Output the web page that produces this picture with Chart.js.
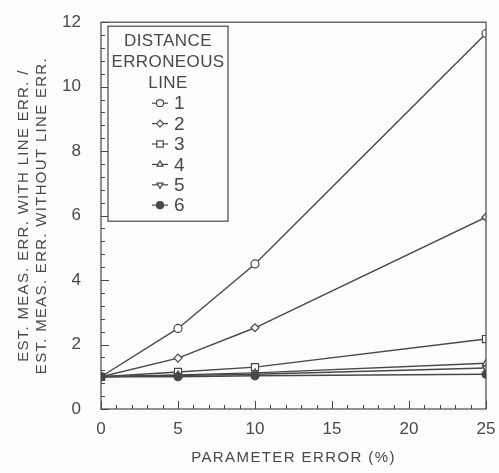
<!DOCTYPE html>
<html>
<head>
<meta charset="utf-8">
<script src="https://cdn.jsdelivr.net/npm/chart.js@4.4.0/dist/chart.umd.min.js"></script>
<style>
  html, body { margin: 0; padding: 0; background: #fcfcfa; }
  #wrap { width: 499px; height: 473px; }
</style>
</head>
<body>
<div id="wrap"><canvas id="charts" width="499" height="473"></canvas></div>
<script>
// data
const paramError = [0, 5, 10, 25]
const line1 = [1, 2.5, 4.5, 11.65]
const line2 = [1, 1.58, 2.52, 5.95]
const line3 = [1, 1.15, 1.3, 2.17]
const line4 = [1, 1.06, 1.12, 1.42]
const line5 = [1, 1.04, 1.08, 1.27]
const line6 = [1, 1.0, 1.03, 1.08]
const lineLabels = ['1', '2', '3', '4', '5', '6']
const legendTitle = ['DISTANCE', 'ERRONEOUS', 'LINE']
const xTitle = 'PARAMETER ERROR (%)'
const yTitle = ['EST. MEAS. ERR. WITH LINE ERR. /', 'EST. MEAS. ERR. WITHOUT LINE ERR.']

const ink = '#484848'
const paper = '#fcfcfa'
const font = '"Liberation Sans", Arial, Helvetica, sans-serif'

function main()
{
    const series = [line1, line2, line3, line4, line5, line6]
    const styles = [
        { pointStyle: 'circle', radius: 4, fill: paper, rotation: 0 },
        { pointStyle: 'rectRot', radius: 4, fill: paper, rotation: 0 },
        { pointStyle: 'rect', radius: 5, fill: paper, rotation: 0 },
        { pointStyle: 'triangle', radius: 4, fill: paper, rotation: 0 },
        { pointStyle: 'triangle', radius: 4, fill: paper, rotation: 180 },
        { pointStyle: 'circle', radius: 4, fill: ink, rotation: 0 }
    ]

    const datasets = series.map((vals, i) => ({
        label: lineLabels[i],
        data: vals.map((v, j) => ({ x: paramError[j], y: v })),
        borderColor: ink,
        borderWidth: 1.4,
        backgroundColor: styles[i].fill,
        pointStyle: styles[i].pointStyle,
        pointRadius: styles[i].radius,
        pointRotation: styles[i].rotation,
        pointBorderColor: ink,
        pointBorderWidth: 1.2,
        pointBackgroundColor: styles[i].fill,
        tension: 0
    })).reverse()

    // frame, inward ticks, axis titles and the boxed legend
    const decor = {
        id: 'decor',
        afterDatasetsDraw(chart) {
            const ctx = chart.ctx
            const a = chart.chartArea
            const xs = chart.scales.x
            const ys = chart.scales.y
            ctx.save()
            ctx.strokeStyle = ink
            ctx.lineWidth = 1.2
            ctx.strokeRect(a.left, a.top, a.right - a.left, a.bottom - a.top)

            ctx.beginPath()
            for (let v = 0; v <= 25; v += 1) {
                const px = Math.round(xs.getPixelForValue(v)) + 0.5
                const len = v % 5 === 0 ? 8 : 4
                ctx.moveTo(px, a.bottom)
                ctx.lineTo(px, a.bottom - len)
            }
            for (let k = 0; k <= 30; k++) {
                const v = k * 0.4
                const py = Math.round(ys.getPixelForValue(v)) + 0.5
                const len = k % 5 === 0 ? 8 : 4
                ctx.moveTo(a.left, py)
                ctx.lineTo(a.left + len, py)
            }
            ctx.lineWidth = 1
            ctx.stroke()

            // axis titles
            ctx.fillStyle = ink
            ctx.font = '15px ' + font
            ctx.letterSpacing = '1.4px'
            ctx.textAlign = 'center'
            ctx.textBaseline = 'middle'
            ctx.fillText(xTitle, (a.left + a.right) / 2, 458)
            ctx.letterSpacing = '1.3px'
            ctx.save()
            ctx.translate(24, (a.top + a.bottom) / 2)
            ctx.rotate(-Math.PI / 2)
            ctx.fillText(yTitle[0], 0, 0)
            ctx.fillText(yTitle[1], 0, 18)
            ctx.restore()
            ctx.letterSpacing = '0px'

            // legend box
            const bx = a.left + 7, by = a.top + 4, bw = 120, bh = 195
            ctx.fillStyle = paper
            ctx.fillRect(bx, by, bw, bh)
            ctx.lineWidth = 1.2
            ctx.strokeRect(bx, by, bw, bh)

            ctx.fillStyle = ink
            ctx.font = '17px ' + font
            ctx.letterSpacing = '0.4px'
            ctx.textAlign = 'center'
            legendTitle.forEach((t, i) => ctx.fillText(t, bx + bw / 2, by + 15 + i * 21))
            ctx.letterSpacing = '0px'

            const ds = chart.data.datasets.slice().reverse()
            ds.forEach((d, i) => {
                const cy = by + 77 + i * 20.4
                const x0 = bx + 44, x1 = bx + 60
                ctx.beginPath()
                ctx.moveTo(x0, cy)
                ctx.lineTo(x1, cy)
                ctx.strokeStyle = ink
                ctx.lineWidth = 1.2
                ctx.stroke()
                ctx.fillStyle = d.pointBackgroundColor
                ctx.strokeStyle = ink
                Chart.helpers.drawPoint(ctx, {
                    pointStyle: d.pointStyle,
                    radius: d.pointRadius - 0.5,
                    rotation: d.pointRotation,
                    borderWidth: 1.2
                }, (x0 + x1) / 2, cy)
                ctx.fillStyle = ink
                ctx.font = '19px ' + font
                ctx.textAlign = 'left'
                ctx.fillText(d.label, x1 + 6, cy + 1)
            })
            ctx.restore()
        }
    }

    const ctx = document.getElementById('charts').getContext('2d')
    new Chart(ctx, {
        type: 'line',
        data: { datasets: datasets },
        options: {
            responsive: false,
            animation: false,
            layout: { padding: { left: 0, right: 13, top: 13, bottom: 0 } },
            plugins: { legend: { display: false }, tooltip: { enabled: false } },
            scales: {
                x: {
                    type: 'linear',
                    min: 0, max: 25,
                    ticks: { stepSize: 5, color: ink, font: { family: font, size: 17 }, padding: 2 },
                    grid: { display: false },
                    border: { display: false },
                    afterFit(scale) { scale.height = 64 }
                },
                y: {
                    min: 0, max: 12,
                    ticks: { stepSize: 2, color: ink, font: { family: font, size: 17 }, padding: 12 },
                    grid: { display: false },
                    border: { display: false },
                    afterFit(scale) { scale.width = 101 }
                }
            }
        },
        plugins: [decor]
    })
}

main()
</script>
</body>
</html>
